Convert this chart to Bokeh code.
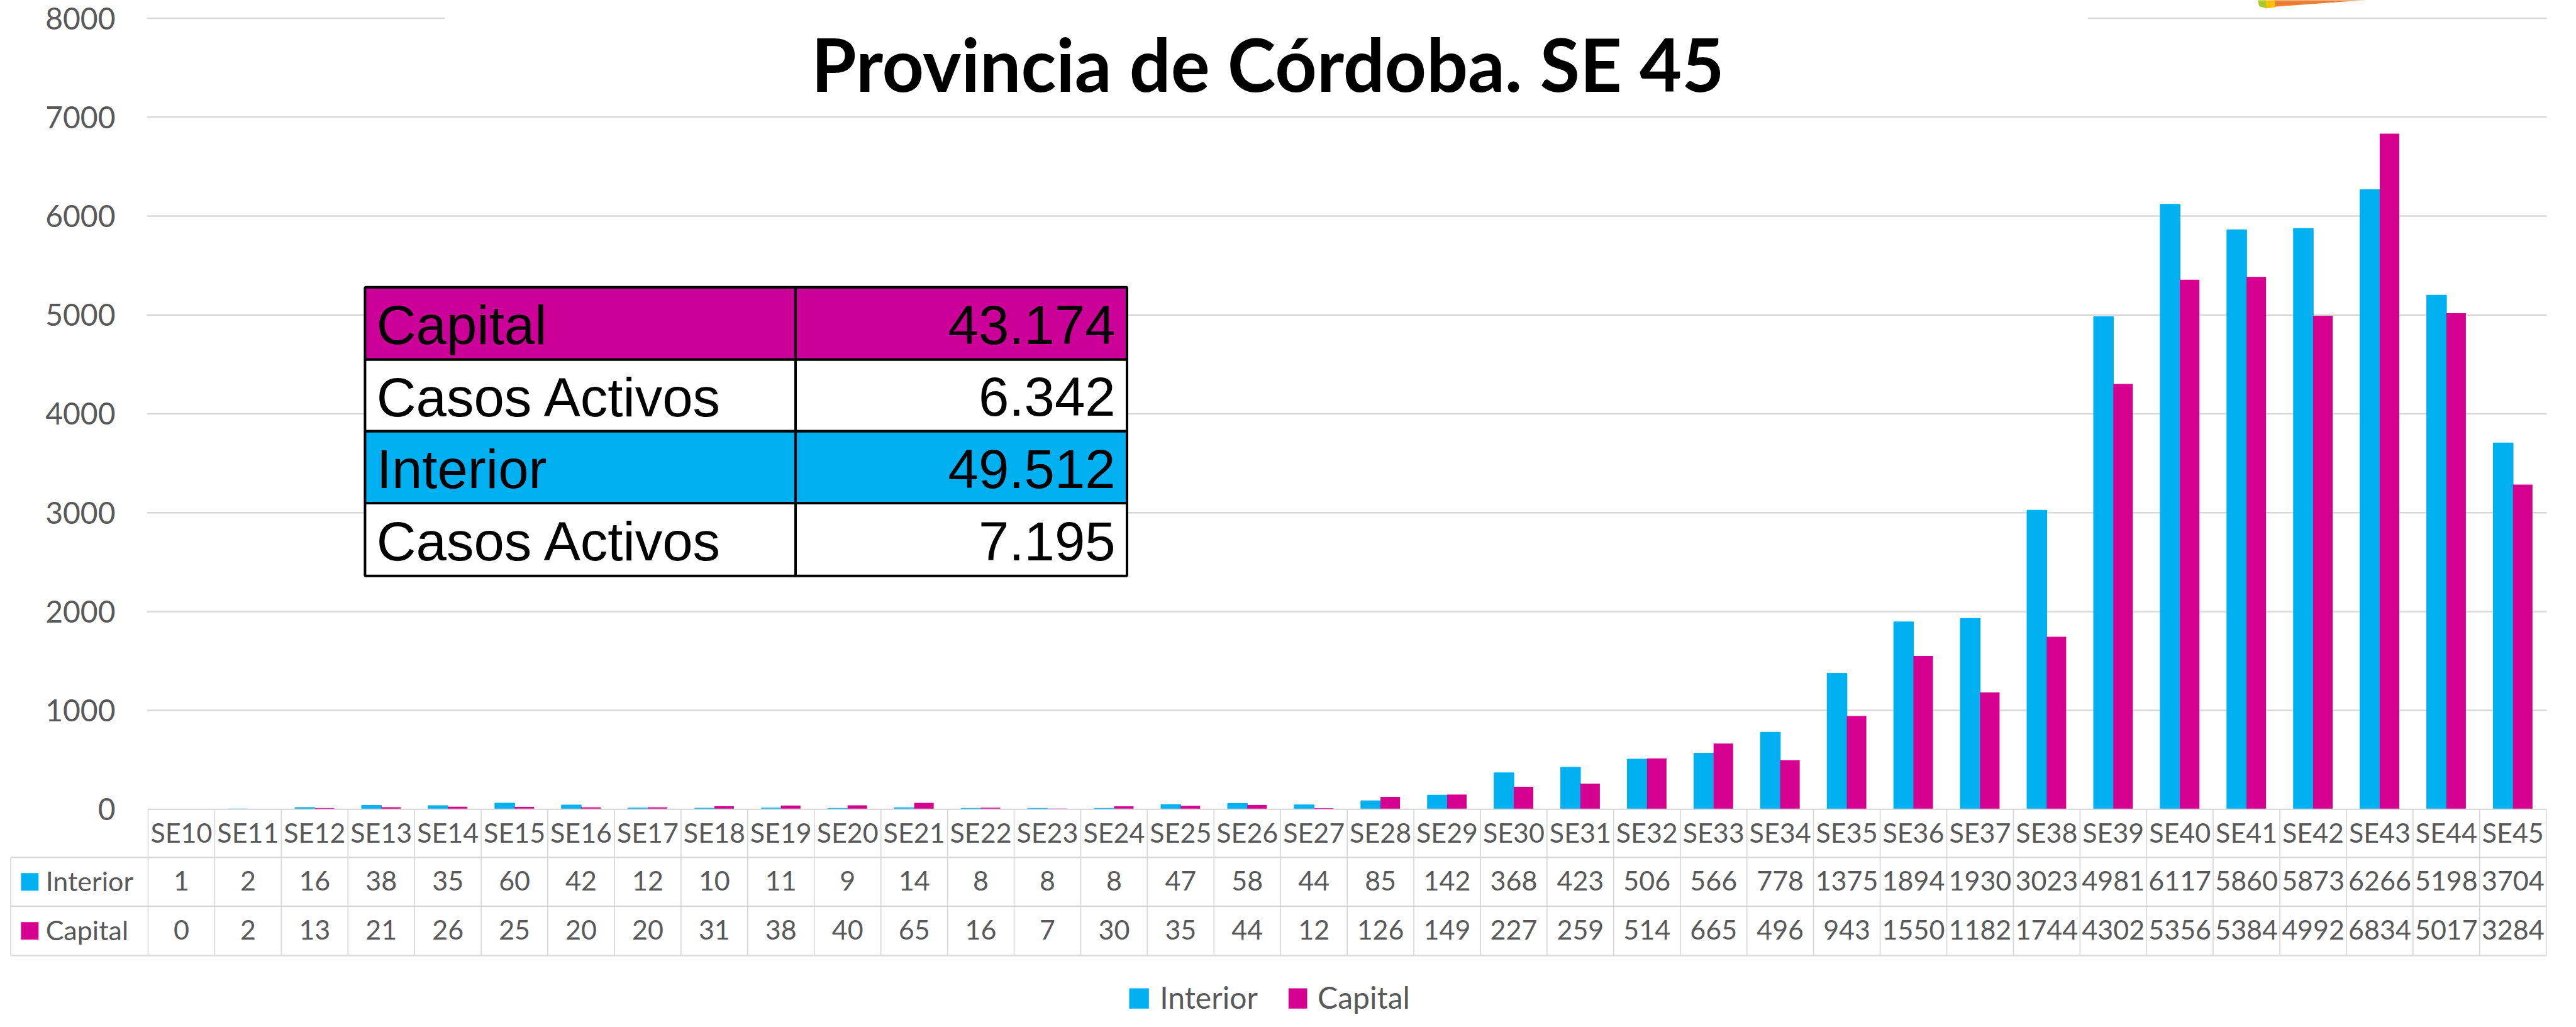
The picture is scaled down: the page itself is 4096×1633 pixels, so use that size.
from bokeh.plotting import figure
from bokeh.models import Range1d, LinearAxis, FixedTicker
from bokeh.core.properties import value
from bokeh.embed import file_html
from bokeh.resources import INLINE

# ---------------- data ----------------
weeks = ["SE10", "SE11", "SE12", "SE13", "SE14", "SE15", "SE16", "SE17", "SE18",
         "SE19", "SE20", "SE21", "SE22", "SE23", "SE24", "SE25", "SE26", "SE27",
         "SE28", "SE29", "SE30", "SE31", "SE32", "SE33", "SE34", "SE35", "SE36",
         "SE37", "SE38", "SE39", "SE40", "SE41", "SE42", "SE43", "SE44", "SE45"]
interior = [1, 2, 16, 38, 35, 60, 42, 12, 10, 11, 9, 14, 8, 8, 8, 47, 58, 44,
            85, 142, 368, 423, 506, 566, 778, 1375, 1894, 1930, 3023, 4981,
            6117, 5860, 5873, 6266, 5198, 3704]
capital = [0, 2, 13, 21, 26, 25, 20, 20, 31, 38, 40, 65, 16, 7, 30, 35, 44, 12,
           126, 149, 227, 259, 514, 665, 496, 943, 1550, 1182, 1744, 4302,
           5356, 5384, 4992, 6834, 5017, 3284]
series_names = ["Interior", "Capital"]
y_ticks = [0, 1000, 2000, 3000, 4000, 5000, 6000, 7000, 8000]

title_text = "Provincia de Córdoba. SE 45"
box_labels = ["Capital", "Casos Activos", "Interior", "Casos Activos"]
box_values = ["43.174", "6.342", "49.512", "7.195"]

# ---------------- styles ----------------
C_INT = "#00B0F0"
C_CAP = "#D5008F"
C_CAP_BOX = "#CC0099"
GRAY_TXT = "#595959"
GRID = "#D9D9D9"
box_fills = [C_CAP_BOX, "white", C_INT, "white"]

SC = 0.871
OFF = 8
W, H = 4080, 1617

# layout measured in reference pixels
PLOT_L, PLOT_R = 279, 4657
BASE_Y = 1486
PX_1000 = 180.5
N = len(weeks)
CELL = (PLOT_R - PLOT_L) / N

LATO_MID = 0.387     # centre of text box above baseline (em)
LIB_MID = 0.347
LATO_CAP = 0.7165
LIB_CAP = 0.716


def X(px):
    return (px - PLOT_L) / CELL


def Y(py):
    return (BASE_Y - py) / PX_1000 * 1000


def mid_from_baseline(base_ref, fs, mid=LATO_MID):
    """data y for a 'middle' text so that its baseline sits at base_ref."""
    return Y(base_ref - mid * fs / SC)


def base_from_center(center_ref, fs, cap=LATO_CAP):
    return center_ref + cap * fs / SC / 2


p = figure(width=W, height=H, output_backend="svg", toolbar_location=None,
           x_range=Range1d(X(OFF / SC), X((W + OFF) / SC)),
           y_range=Range1d(Y((H + OFF) / SC), Y(OFF / SC)),
           x_axis_location=None, y_axis_location=None,
           min_border=0, outline_line_color=None,
           background_fill_color="white", border_fill_color="white")
p.grid.visible = False

# y axis
yax = LinearAxis(fixed_location=0, ticker=FixedTicker(ticks=y_ticks),
                 axis_line_color=None, major_tick_line_color=None,
                 minor_tick_line_color=None, major_tick_out=0, major_tick_in=0,
                 major_label_standoff=52,
                 major_label_text_font="Lato",
                 major_label_text_font_size="48px",
                 major_label_text_color=GRAY_TXT)
p.add_layout(yax, "left")

# gridlines
gl = [t for t in y_ticks if t > 0]
p.segment(x0=[X(277)] * len(gl), x1=[X(4658)] * len(gl), y0=gl, y1=gl,
          line_color=GRID, line_width=2.5)

# bars
BW = 0.293
idx = list(range(N))
p.vbar(x=[i + 0.5 - BW / 2 for i in idx], width=BW, top=interior, bottom=0,
       fill_color=C_INT, line_color=C_INT, line_width=1.5)
p.vbar(x=[i + 0.5 + BW / 2 for i in idx], width=BW, top=capital, bottom=0,
       fill_color=C_CAP, line_color=None)

# white title box
p.quad(left=[X(821)], right=[X(3820)], top=[Y(-50)], bottom=[Y(200)],
       fill_color="white", line_color=None)
FS_TITLE = 116
p.text(x=[X(2323)], y=[mid_from_baseline(177, FS_TITLE)], text=[title_text],
       text_align="center", text_baseline="middle", text_font=value("Lato"),
       text_font_style="bold", text_font_size=value(f"{FS_TITLE}px"),
       text_color="black")

# logo fragment top right
p.patch(x=[X(4160), X(4514), X(4160)], y=[Y(-5), Y(-5), Y(21)],
        fill_color="#ED7D31", line_color=None)
p.patch(x=[X(4140), X(4162), X(4162), X(4145)], y=[Y(-5), Y(-5), Y(22), Y(24)],
        fill_color="#FFC000", line_color=None)
p.patch(x=[X(4127), X(4142), X(4147), X(4133)], y=[Y(-5), Y(-5), Y(24), Y(20)],
        fill_color="#A9C92A", line_color=None)

# data table below the axis
T_TOP, T_R1, T_R2, T_R3 = 1486, 1574, 1663, 1753
T_L = 28
hy = [T_R1, T_R2, T_R3]
p.segment(x0=[X(T_L)] * 3, x1=[N] * 3, y0=[Y(v) for v in hy], y1=[Y(v) for v in hy],
          line_color=GRID, line_width=2.2)
p.segment(x0=[0], x1=[N], y0=[0], y1=[0], line_color=GRID, line_width=2.2)
p.segment(x0=list(range(N + 1)), x1=list(range(N + 1)),
          y0=[Y(T_TOP)] * (N + 1), y1=[Y(T_R3)] * (N + 1),
          line_color=GRID, line_width=1.8)
p.segment(x0=[X(T_L)], x1=[X(T_L)], y0=[Y(T_R1)], y1=[Y(T_R3)],
          line_color=GRID, line_width=1.8)

FS_T = 43
row_centers = [(T_TOP + T_R1) / 2, (T_R1 + T_R2) / 2, (T_R2 + T_R3) / 2]
row_texts = [weeks, [str(v) for v in interior], [str(v) for v in capital]]
for rc, txt in zip(row_centers, row_texts):
    yy = mid_from_baseline(base_from_center(rc, FS_T), FS_T)
    p.text(x=[i + 0.5 for i in idx], y=[yy] * N, text=txt,
           text_align="center", text_baseline="middle",
           text_font=value("Lato"), text_font_size=value(f"{FS_T}px"),
           text_color=GRAY_TXT)

# series keys in the table
for rc, name, col in zip(row_centers[1:], series_names, [C_INT, C_CAP]):
    p.quad(left=[X(47)], right=[X(79)], top=[Y(rc - 16)], bottom=[Y(rc + 16)],
           fill_color=col, line_color=None)
    yy = mid_from_baseline(base_from_center(rc, FS_T), FS_T)
    p.text(x=[X(92)], y=[yy], text=[name], text_align="left",
           text_baseline="middle", text_font=value("Lato"),
           text_font_size=value(f"{FS_T}px"), text_color=GRAY_TXT)

# inset summary box
BX = [675, 1461, 2066]
BY = [533, 665, 796, 927, 1060]
for k in range(4):
    for c in range(2):
        p.quad(left=[X(BX[c])], right=[X(BX[c + 1])], top=[Y(BY[k])],
               bottom=[Y(BY[k + 1])], fill_color=box_fills[k],
               line_color="black", line_width=4)
FS_B = 87
for k in range(4):
    base = base_from_center((BY[k] + BY[k + 1]) / 2, FS_B, LIB_CAP) + 2
    yb = mid_from_baseline(base, FS_B, LIB_MID)
    p.text(x=[X(696)], y=[yb], text=[box_labels[k]], text_align="left",
           text_baseline="middle", text_font=value("Liberation Sans"),
           text_font_size=value(f"{FS_B}px"), text_color="black")
    p.text(x=[X(2045)], y=[yb], text=[box_values[k]], text_align="right",
           text_baseline="middle", text_font=value("Liberation Sans"),
           text_font_size=value(f"{FS_B}px"), text_color="black")

# legend at the bottom
FS_L = 48
LEG_BASE = 1850
LEG_TOP = 1813
leg_sq = [(2070, 2106), (2361, 2395)]
leg_tx = [2126, 2414]
for (l, r), tx, name, col in zip(leg_sq, leg_tx, series_names, [C_INT, C_CAP]):
    p.quad(left=[X(l)], right=[X(r)], top=[Y(LEG_TOP)], bottom=[Y(LEG_BASE)],
           fill_color=col, line_color=None)
    p.text(x=[X(tx)], y=[mid_from_baseline(LEG_BASE, FS_L)], text=[name],
           text_align="left", text_baseline="middle", text_font=value("Lato"),
           text_font_size=value(f"{FS_L}px"), text_color=GRAY_TXT)

open("out.html", "w").write(file_html(p, INLINE))
